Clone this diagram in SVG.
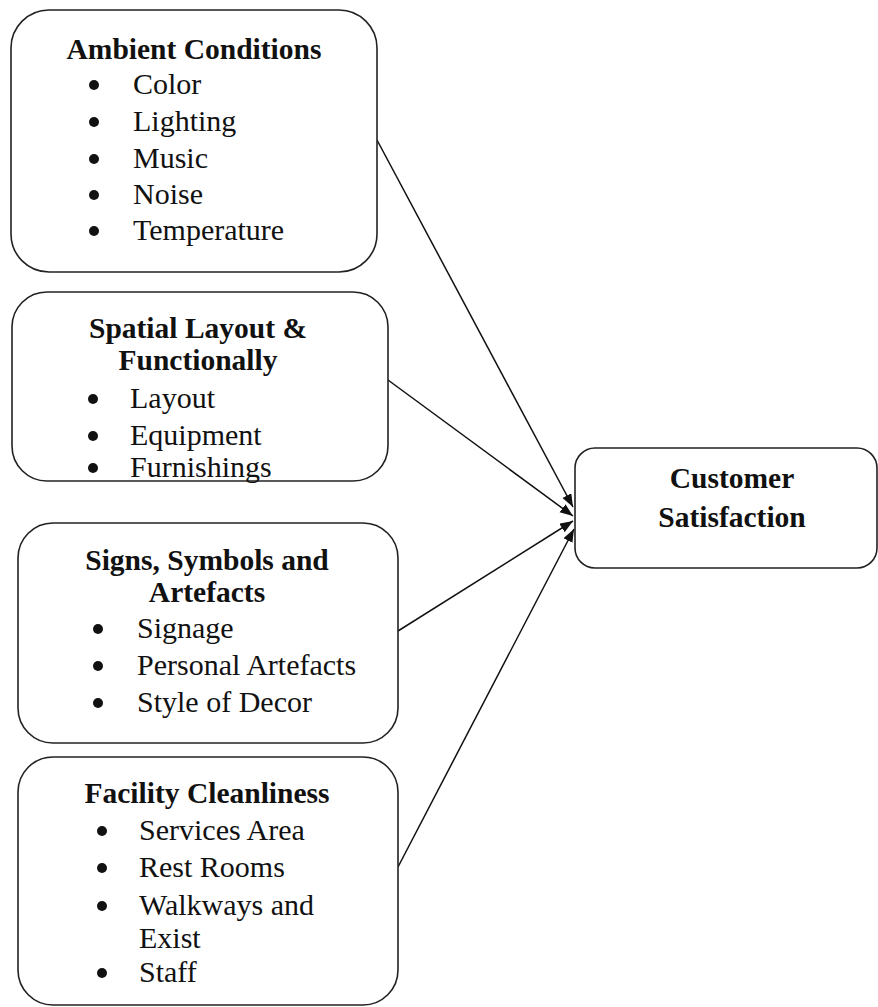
<svg xmlns="http://www.w3.org/2000/svg" width="878" height="1007" viewBox="0 0 878 1007">
<style>
.box{fill:#fff;stroke:#222;stroke-width:1.6}
.t{font-family:"Liberation Serif","Times New Roman",serif;font-size:30px;fill:#111}
.h{font-weight:bold;text-anchor:middle;font-size:29.5px}
.d{fill:#111}
.c{stroke:#111;stroke-width:1.5;fill:none}
</style>
<defs>
<marker id="ah" markerUnits="userSpaceOnUse" markerWidth="14" markerHeight="12" refX="13" refY="5" orient="auto">
<path d="M0,0 L13,5 L0,10 z" fill="#111"/>
</marker>
</defs>
<rect width="878" height="1007" fill="#fff"/>
<g id="connectors">
<line class="c" x1="377" y1="140" x2="573" y2="507" marker-end="url(#ah)"/>
<line class="c" x1="388" y1="380" x2="573" y2="516" marker-end="url(#ah)"/>
<line class="c" x1="398" y1="631" x2="573" y2="521" marker-end="url(#ah)"/>
<line class="c" x1="398" y1="867" x2="574" y2="529" marker-end="url(#ah)"/>
</g>
<g id="ambient">
<rect class="box" x="11" y="10" width="366" height="262" rx="38"/>
<text class="t h" x="194" y="59">Ambient Conditions</text>
<circle class="d" cx="94" cy="85" r="5"/><text class="t" x="133" y="94">Color</text>
<circle class="d" cx="94" cy="122" r="5"/><text class="t" x="133" y="131">Lighting</text>
<circle class="d" cx="94" cy="159" r="5"/><text class="t" x="133" y="168">Music</text>
<circle class="d" cx="94" cy="195" r="5"/><text class="t" x="133" y="204">Noise</text>
<circle class="d" cx="94" cy="231" r="5"/><text class="t" x="133" y="240">Temperature</text>
</g>
<g id="spatial">
<rect class="box" x="12" y="292" width="376" height="189" rx="35"/>
<text class="t h" x="198" y="338">Spatial Layout &amp;</text>
<text class="t h" x="198" y="370">Functionally</text>
<circle class="d" cx="93" cy="399" r="5"/><text class="t" x="130" y="408">Layout</text>
<circle class="d" cx="93" cy="436" r="5"/><text class="t" x="130" y="445">Equipment</text>
<circle class="d" cx="93" cy="468" r="5"/><text class="t" x="130" y="477">Furnishings</text>
</g>
<g id="signs">
<rect class="box" x="18" y="523" width="380" height="220" rx="35"/>
<text class="t h" x="207" y="570">Signs, Symbols and</text>
<text class="t h" x="207" y="602">Artefacts</text>
<circle class="d" cx="98" cy="629" r="5"/><text class="t" x="137" y="638">Signage</text>
<circle class="d" cx="98" cy="666" r="5"/><text class="t" x="137" y="675">Personal Artefacts</text>
<circle class="d" cx="98" cy="703" r="5"/><text class="t" x="137" y="712">Style of Decor</text>
</g>
<g id="facility">
<rect class="box" x="18" y="757" width="380" height="248" rx="35"/>
<text class="t h" x="207" y="803">Facility Cleanliness</text>
<circle class="d" cx="102" cy="831" r="5"/><text class="t" x="139" y="840">Services Area</text>
<circle class="d" cx="102" cy="868" r="5"/><text class="t" x="139" y="877">Rest Rooms</text>
<circle class="d" cx="102" cy="906" r="5"/><text class="t" x="139" y="915">Walkways and</text>
<text class="t" x="139" y="948">Exist</text>
<circle class="d" cx="102" cy="973" r="5"/><text class="t" x="139" y="982">Staff</text>
</g>
<g id="satisfaction">
<rect class="box" x="575" y="448" width="302" height="120" rx="20"/>
<text class="t h" x="732" y="488">Customer</text>
<text class="t h" x="732" y="527">Satisfaction</text>
</g>
</svg>
